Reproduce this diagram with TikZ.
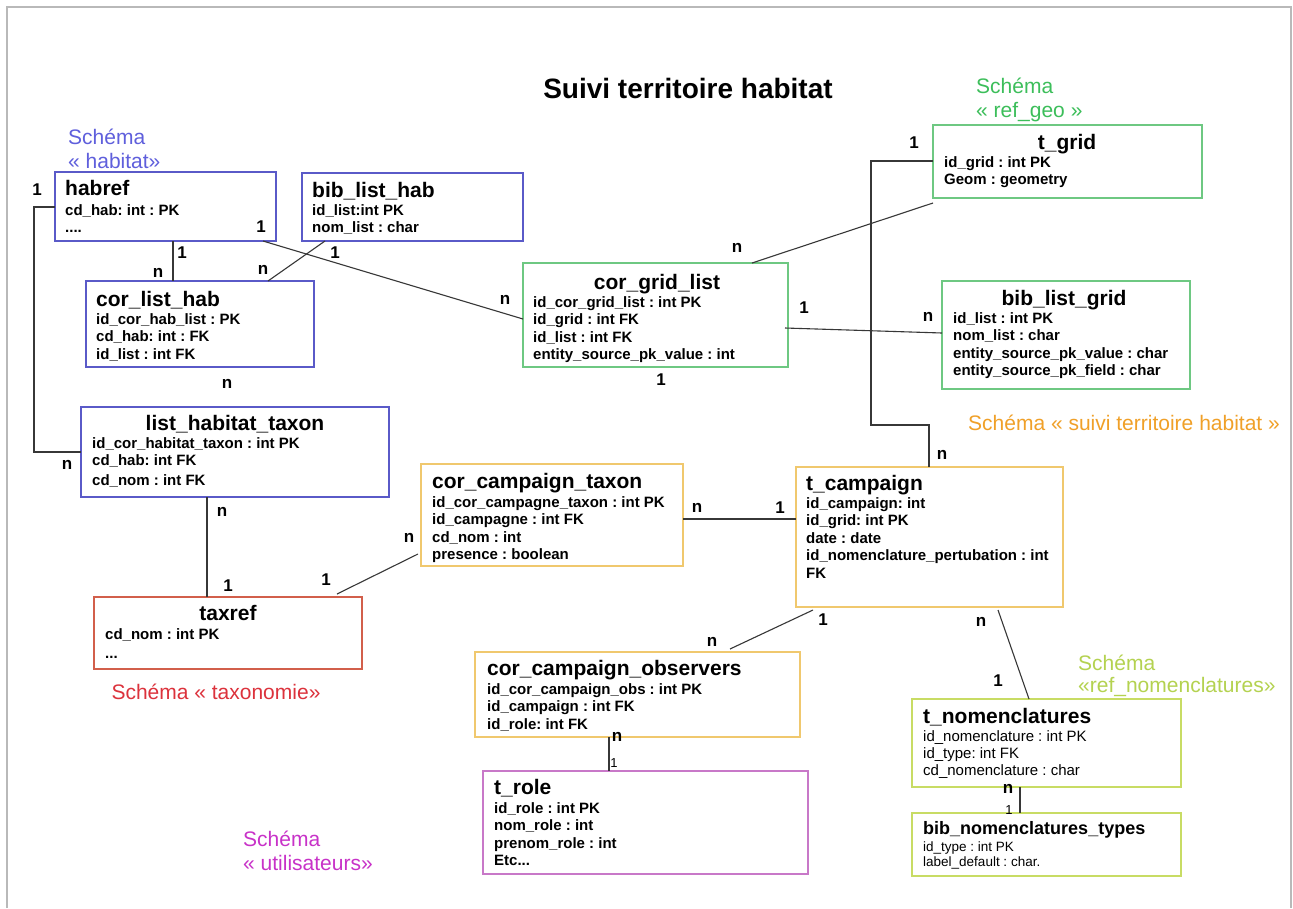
\documentclass[tikz,border=0pt]{standalone}
\usepackage{fontspec}
\setmainfont{Liberation Sans}
\usetikzlibrary{calc}
\frenchspacing
\definecolor{cblue}{RGB}{90,90,200}
\definecolor{tblue}{RGB}{95,95,220}
\definecolor{cgreen}{RGB}{110,200,130}
\definecolor{tgreen}{RGB}{60,190,90}
\definecolor{corange}{RGB}{240,200,110}
\definecolor{torange}{RGB}{240,160,40}
\definecolor{cred}{RGB}{210,95,75}
\definecolor{tred}{RGB}{220,50,60}
\definecolor{cmag}{RGB}{200,120,200}
\definecolor{tmag}{RGB}{200,50,200}
\definecolor{cyg}{RGB}{200,220,100}
\definecolor{tyg}{RGB}{180,210,80}
\definecolor{linkgray}{RGB}{55,55,55}
\definecolor{framegray}{RGB}{185,185,185}
\newcommand\rowsof[1]{\begin{tabular}[t]{@{}l@{}}#1\end{tabular}}
\begin{document}
\begin{tikzpicture}[x=1pt,y=-1pt,
  tbox/.style={draw=#1, line width=1.3pt, inner sep=0pt, outer sep=0pt, anchor=north west},
  ttl/.style={inner sep=0pt, font=\fontsize{21}{24}\selectfont\bfseries},
  ttlsm/.style={inner sep=0pt, font=\fontsize{18}{21}\selectfont\bfseries},
  attr/.style={inner sep=0pt, anchor=base west, font=\fontsize{15}{17.5}\selectfont\bfseries\frenchspacing},
  attrreg/.style={inner sep=0pt, anchor=base west, font=\fontsize{15}{17}\selectfont\frenchspacing},
  attrsm/.style={inner sep=0pt, anchor=base west, font=\fontsize{13.5}{15}\selectfont\frenchspacing},
  card/.style={inner sep=0pt, font=\fontsize{17}{20}\selectfont\bfseries},
  cardsm/.style={inner sep=0pt, font=\fontsize{13}{15}\selectfont},
  schema/.style={inner sep=0pt, anchor=base west, font=\fontsize{21}{24.5}\selectfont},
  link/.style={draw=linkgray, line width=1.1pt}
]
\useasboundingbox (0,0) rectangle (1293,908);
\fill[white] (0,0) rectangle (1293,908);
\coordinate (fa) at (7,908);
\coordinate (fb) at (7,7);
\coordinate (fc) at (1291,7);
\coordinate (fd) at (1291,908);
\draw[framegray, line width=2pt] (fa) -- (fb) -- (fc) -- (fd);

% title
\node[font=\fontsize{28}{32}\selectfont\bfseries, inner sep=0pt] (title) at (688,88) {Suivi territoire habitat};

% schema labels
\node[schema, text=tblue] (sHab) at (68,144) {\rowsof{Schéma\\« habitat»}};
\node[schema, text=tgreen] (sGeo) at (976,93) {\rowsof{Schéma\\« ref\_geo »}};
\node[schema, text=torange] (sSuivi) at (968,430) {Schéma « suivi territoire habitat »};
\node[inner sep=0pt, anchor=base, font=\fontsize{21}{24}\selectfont, text=tred] (sTax) at (216,699) {Schéma « taxonomie»};
\node[schema, text=tmag] (sUti) at (243,846) {\rowsof{Schéma\\« utilisateurs»}};
\node[schema, text=tyg, font=\fontsize{21}{22}\selectfont] (sNom) at (1078,670) {\rowsof{Schéma\\«ref\_nomenclatures»}};

% habref
\node[tbox=cblue, minimum width=221pt, minimum height=69pt] (habref) at (55,172) {};
\node[ttl, anchor=base west] (habref-h) at (65,195) {habref};
\node[attr] (habref-a) at (65,215) {\rowsof{cd\_hab: int : PK\\....}};

% bib_list_hab
\node[tbox=cblue, minimum width=221pt, minimum height=68pt] (blh) at (302,173) {};
\node[ttl, anchor=base west] (blh-h) at (312,197) {bib\_list\_hab};
\node[attr] (blh-a) at (312,215) {\rowsof{id\_list:int PK\\nom\_list : char}};

% cor_list_hab
\node[tbox=cblue, minimum width=228pt, minimum height=86pt] (clh) at (86,281) {};
\node[ttl, anchor=base west] (clh-h) at (96,306) {cor\_list\_hab};
\node[attr] (clh-a) at (96,324) {\rowsof{id\_cor\_hab\_list : PK\\cd\_hab: int : FK\\id\_list : int FK}};

% list_habitat_taxon
\node[tbox=cblue, minimum width=308pt, minimum height=90pt] (lht) at (81,407) {};
\node[ttl, anchor=base] (lht-h) at (235,430) {list\_habitat\_taxon};
\node[attr] (lht-a) at (92,448) {\rowsof{id\_cor\_habitat\_taxon : int PK\\cd\_hab: int FK\\[2.5pt]cd\_nom : int FK}};

% taxref
\node[tbox=cred, minimum width=268pt, minimum height=72pt] (taxref) at (94,597) {};
\node[ttl, anchor=base] (taxref-h) at (228,620) {taxref};
\node[attr] (taxref-a) at (105,639) {\rowsof{cd\_nom : int PK\\[2pt]...}};

% cor_grid_list
\node[tbox=cgreen, minimum width=265pt, minimum height=104pt] (cgl) at (523,263) {};
\node[ttl, anchor=base] (cgl-h) at (657,289) {cor\_grid\_list};
\node[attr] (cgl-a) at (533,307) {\rowsof{id\_cor\_grid\_list : int PK\\id\_grid : int FK\\id\_list : int FK\\entity\_source\_pk\_value : int}};

% t_grid
\node[tbox=cgreen, minimum width=269pt, minimum height=73pt] (tgrid) at (933,125) {};
\node[ttl, anchor=base] (tgrid-h) at (1067,149) {t\_grid};
\node[attr] (tgrid-a) at (944,167) {\rowsof{id\_grid : int PK\\Geom : geometry}};

% bib_list_grid
\node[tbox=cgreen, minimum width=248pt, minimum height=108pt] (blg) at (942,281) {};
\node[ttl, anchor=base] (blg-h) at (1064,305) {bib\_list\_grid};
\node[attr] (blg-a) at (953,323) {\rowsof{id\_list : int PK\\nom\_list : char\\entity\_source\_pk\_value : char\\entity\_source\_pk\_field : char}};

% t_campaign
\node[tbox=corange, minimum width=267pt, minimum height=140pt] (tcamp) at (796,467) {};
\node[ttl, anchor=base west] (tcamp-h) at (806,490) {t\_campaign};
\node[attr] (tcamp-a) at (806,508) {\rowsof{id\_campaign: int\\id\_grid: int PK\\date : date\\id\_nomenclature\_pertubation : int\\FK}};

% cor_campaign_taxon
\node[tbox=corange, minimum width=262pt, minimum height=102pt] (cct) at (421,464) {};
\node[ttl, anchor=base west] (cct-h) at (432,488) {cor\_campaign\_taxon};
\node[attr] (cct-a) at (432,507) {\rowsof{id\_cor\_campagne\_taxon : int PK\\id\_campagne : int FK\\cd\_nom : int\\presence : boolean}};

% cor_campaign_observers
\node[tbox=corange, minimum width=325pt, minimum height=85pt] (cco) at (475,652) {};
\node[ttl, anchor=base west] (cco-h) at (487,675) {cor\_campaign\_observers};
\node[attr] (cco-a) at (487,694) {\rowsof{id\_cor\_campaign\_obs : int PK\\id\_campaign : int FK\\id\_role: int FK}};

% t_role
\node[tbox=cmag, minimum width=325pt, minimum height=103pt] (trole) at (483,771) {};
\node[ttl, anchor=base west] (trole-h) at (494,794) {t\_role};
\node[attr] (trole-a) at (494,813) {\rowsof{id\_role : int PK\\nom\_role : int\\prenom\_role : int\\Etc...}};

% t_nomenclatures
\node[tbox=cyg, minimum width=269pt, minimum height=88pt] (tnom) at (912,699) {};
\node[ttl, anchor=base west] (tnom-h) at (923,723) {t\_nomenclatures};
\node[attrreg] (tnom-a) at (923,741) {\rowsof{id\_nomenclature : int PK\\id\_type: int FK\\cd\_nomenclature : char}};

% bib_nomenclatures_types
\node[tbox=cyg, minimum width=269pt, minimum height=63pt] (bnt) at (912,813) {};
\node[ttlsm, anchor=base west] (bnt-h) at (923,834) {bib\_nomenclatures\_types};
\node[attrsm] (bnt-a) at (923,851) {\rowsof{id\_type : int PK\\label\_default : char.}};

% connectors
\draw[link] ($(habref.north west)+(0,35)$) -- ++(-21,0) |- ($(lht.north west)+(0,45)$);
\draw[link] ($(habref.north west)+(118,69)$) -- ($(clh.north west)+(87,0)$);
\draw[link] ($(blh.north west)+(23,68)$) -- ($(clh.north west)+(182,0)$);
\draw[link] ($(habref.north west)+(208,69)$) -- ($(cgl.north west)+(0,56)$);
\draw[link] ($(tgrid.south west)+(0,5)$) -- ($(cgl.north west)+(229,0)$);
\draw[link] ($(cgl.north east)+(-3,65)$) -- ($(blg.north west)+(0,52)$);
\draw[link] ($(tgrid.north west)+(0,36)$) -- ++(-62,0) -- ++(0,264) -| ($(tcamp.north west)+(133,0)$);
\draw[link] ($(cct.north east)+(0,55)$) -- ($(tcamp.north west)+(0,52)$);
\draw[link] ($(taxref.north west)+(243,-3)$) -- ($(cct.north west)+(-3,90)$);
\draw[link] ($(lht.north west)+(126,90)$) -- ($(taxref.north west)+(113,0)$);
\draw[link] ($(tcamp.south west)+(17,3)$) -- ($(cco.north west)+(255,-3)$);
\draw[link] ($(tcamp.south west)+(202,3)$) -- ($(tnom.north west)+(117,0)$);
\draw[link] ($(cco.north west)+(134,85)$) -- ($(trole.north west)+(126,0)$);
\draw[link] ($(tnom.north west)+(108,88)$) -- ($(bnt.north west)+(108,0)$);

% cardinalities
\node[card] (k1a) at (37,190) {1};
\node[card] (k1b) at (67,465) {n};
\node[card] (k2a) at (182,253) {1};
\node[card] (k2b) at (158,273) {n};
\node[card] (k3a) at (335,253) {1};
\node[card] (k3b) at (263,270) {n};
\node[card] (k4a) at (261,227) {1};
\node[card] (k4b) at (505,300) {n};
\node[card] (k5b) at (737,248) {n};
\node[card] (k6a) at (804,308) {1};
\node[card] (k6b) at (928,317) {n};
\node[card] (k7a) at (914,143) {1};
\node[card] (k7b) at (942,455) {n};
\node[card] (k8a) at (697,508) {n};
\node[card] (k8b) at (780,508) {1};
\node[card] (k9a) at (326,580) {1};
\node[card] (k9b) at (409,538) {n};
\node[card] (k10a) at (222,512) {n};
\node[card] (k10b) at (228,586) {1};
\node[card] (k11a) at (823,620) {1};
\node[card] (k11b) at (712,642) {n};
\node[card] (k12a) at (981,622) {n};
\node[card] (k12b) at (998,681) {1};
\node[card] (k13a) at (617,737) {n};
\node[cardsm] (k13b) at (614,763) {1};
\node[card] (k14a) at (1008,789) {n};
\node[cardsm] (k14b) at (1009,810) {1};
\node[card] (kcgl) at (661,380) {1};
\node[card] (klht) at (227,384) {n};
\end{tikzpicture}
\end{document}
